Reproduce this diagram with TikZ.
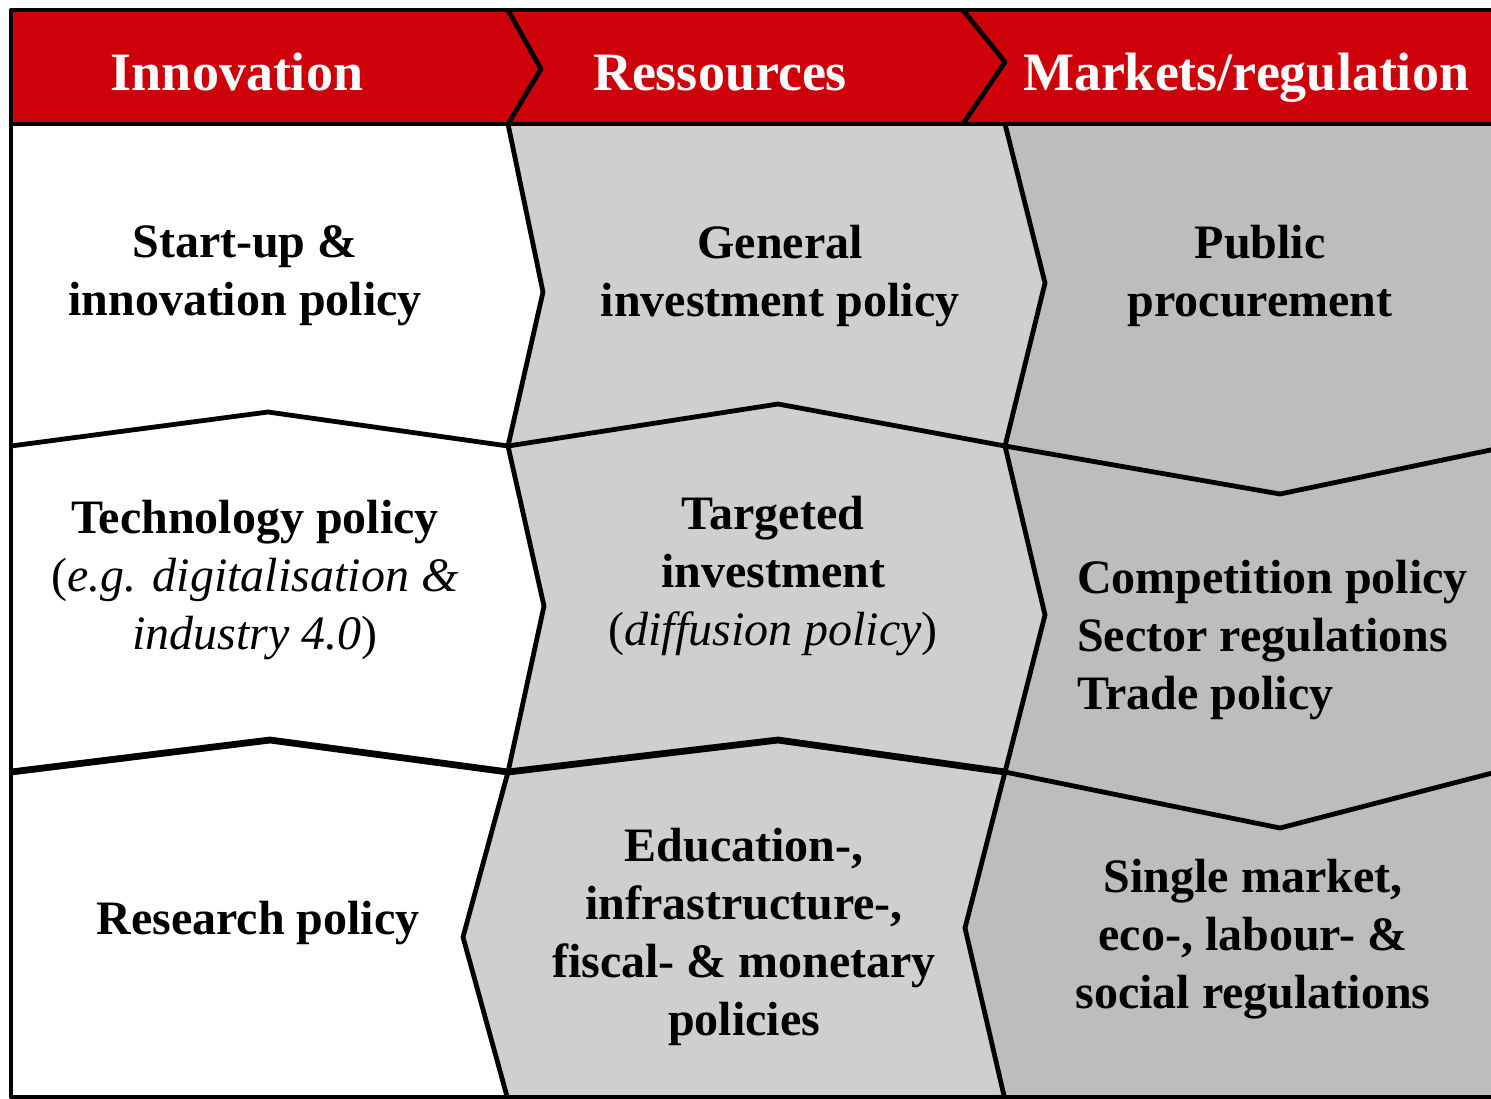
\documentclass[tikz,border=0pt]{standalone}
\usepackage{fontspec}
\setmainfont{Liberation Serif}
\usetikzlibrary{positioning}
\definecolor{headred}{RGB}{206,0,10}
\definecolor{lightgrey}{RGB}{207,207,207}
\definecolor{midgrey}{RGB}{189,189,189}

\begin{document}
\begin{tikzpicture}[x=0.5pt,y=-0.5pt,
    border/.style={line width=2.4pt,line join=round},
    heavy/.style={line width=3.4pt,line join=round},
    head/.style={text=white,anchor=base,font=\fontsize{27}{32}\selectfont\bfseries},
    cell/.style={align=center,font=\fontsize{24}{29}\selectfont\bfseries}]
  \useasboundingbox (0,0) rectangle (1491,1098);
  \clip (0,0) rectangle (1491,1098);
  % fills
  \fill[headred] (11,10) rectangle (1500,124);
  \fill[lightgrey] (508,124) -- (1005,124) -- (1045,283) -- (1005,446) -- (1045,615)
    -- (1005,772) -- (965,928) -- (1005,1100) -- (508,1100) -- (463,937) -- (508,772)
    -- (544,606) -- (508,446) -- (543,292) -- cycle;
  \fill[midgrey] (1005,124) -- (1500,124) -- (1500,1100) -- (1005,1100) -- (965,928)
    -- (1005,772) -- (1045,615) -- (1005,446) -- (1045,283) -- cycle;
  % frame and header
  \draw[border] (1500,10) -- (11,10) -- (11,1097) -- (1500,1097);
  \draw[border] (11,124) -- (1500,124);
  \draw[border] (508,10) -- (541,69) -- (508,124);
  \draw[border] (963,10) -- (1005,62) -- (963,124);
  % column borders
  \draw[border] (508,124) -- (543,292) -- (508,446) -- (544,606) -- (508,772)
    -- (463,937) -- (508,1100);
  \draw[border] (1005,124) -- (1045,283) -- (1005,446) -- (1045,615) -- (1005,772)
    -- (965,928) -- (1005,1100);
  % row borders
  \draw[border] (11,446) -- (268,412) -- (508,446) -- (778,404) -- (1005,446)
    -- (1280,494) -- (1500,448);
  \draw[heavy] (11,772) -- (270,740) -- (508,772) -- (778,740) -- (1005,772);
  \draw[border] (1005,772) -- (1280,828) -- (1500,771);
  % headers
  \node[head] (inno) at (237,90) {Innovation};
  \node[head] (res) at (720,90) {Ressources};
  \node[head] (mkt) at (1246,90) {Markets/regulation};
  % cells
  \node[cell] (startup) at (245,276) {Start-up \&\\innovation policy};
  \node[cell] (tech) at (255,580) {Technology policy\\
    \textmd{(\textit{e.g. digitalisation \&}}\\\textmd{\textit{industry 4.0})}};
  \node[cell] (research) at (258,923) {Research policy};
  \node[cell] (general) at (780,276) {General\\investment policy};
  \node[cell] (targeted) at (773,576) {Targeted\\investment\\\textmd{(\textit{diffusion policy})}};
  \node[cell] (edu) at (744,937) {Education-,\\infrastructure-,\\fiscal- \& monetary\\policies};
  \node[cell] (public) at (1260,276) {Public\\procurement};
  \node[cell,align=left,anchor=west] (comp) at (1070,640) {Competition policy\\Sector regulations\\Trade policy};
  \node[cell] (single) at (1253,939) {Single market,\\eco-, labour- \&\\social regulations};
\end{tikzpicture}
\end{document}
